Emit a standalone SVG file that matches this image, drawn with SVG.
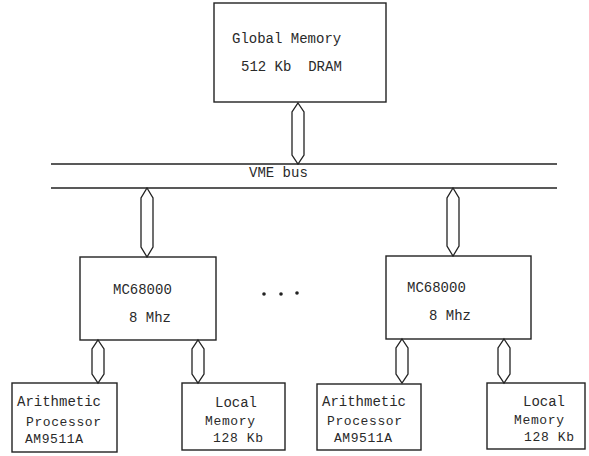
<svg xmlns="http://www.w3.org/2000/svg" width="589" height="456" viewBox="0 0 589 456">
<style>
.box{fill:none;stroke:#222;stroke-width:1.4}
.bus{fill:none;stroke:#222;stroke-width:1.4}
.arr{fill:#fff;stroke:#222;stroke-width:1.3;stroke-linejoin:miter}
text{font-family:"Liberation Mono","Courier New",monospace;font-size:14px;fill:#2a2a2a}
.s{font-size:13px}
</style>
<rect width="589" height="456" fill="#fff"/>
<g id="connectors">
<line class="bus" x1="51" y1="164" x2="557" y2="164"/>
<line class="bus" x1="51" y1="188" x2="557" y2="188"/>
<path class="arr" d="M298,103 L304,112 L304,155 L298,164 L292,155 L292,112 Z"/>
<path class="arr" d="M147,188 L153,198 L153,247 L147,257 L141,247 L141,198 Z"/>
<path class="arr" d="M453,188 L459,198 L459,246 L453,256 L447,246 L447,198 Z"/>
<path class="arr" d="M98,340 L104,349 L104,374 L98,383 L92,374 L92,349 Z"/>
<path class="arr" d="M198,340 L204,349 L204,374 L198,383 L192,374 L192,349 Z"/>
<path class="arr" d="M402,339 L408,348 L408,374 L402,383 L396,374 L396,348 Z"/>
<path class="arr" d="M504,339 L510,348 L510,374 L504,383 L498,374 L498,348 Z"/>
</g>
<g id="vme-bus-label"><text x="249" y="177">VME bus</text></g>
<g id="global-memory">
<rect class="box" x="214" y="3" width="172" height="99"/>
<text x="232" y="43">Global Memory</text>
<text x="241" y="71" xml:space="preserve">512 Kb  DRAM</text>
</g>
<g id="cpu-left">
<rect class="box" x="80" y="257" width="136" height="83"/>
<text x="113" y="294">MC68000</text>
<text x="129" y="322">8 Mhz</text>
</g>
<g id="cpu-right">
<rect class="box" x="386" y="256" width="145" height="83"/>
<text x="407" y="292">MC68000</text>
<text x="429" y="320">8 Mhz</text>
</g>
<g id="ellipsis" fill="#222">
<circle cx="264" cy="294" r="1.8"/>
<circle cx="281" cy="294" r="1.8"/>
<circle cx="297" cy="293" r="1.8"/>
</g>
<g id="arith-left">
<rect class="box" x="12" y="383" width="105" height="69"/>
<text x="17" y="406">Arithmetic</text>
<text class="s" x="26" y="426" textLength="75" lengthAdjust="spacing">Processor</text>
<text class="s" x="25" y="443" textLength="58" lengthAdjust="spacing">AM9511A</text>
</g>
<g id="local-left">
<rect class="box" x="182" y="383" width="103" height="67"/>
<text x="215" y="407">Local</text>
<text class="s" x="205" y="425" textLength="50" lengthAdjust="spacing">Memory</text>
<text class="s" x="213" y="442" textLength="50" lengthAdjust="spacing">128 Kb</text>
</g>
<g id="arith-right">
<rect class="box" x="317" y="384" width="104" height="66"/>
<text x="322" y="406">Arithmetic</text>
<text class="s" x="327" y="425" textLength="75" lengthAdjust="spacing">Processor</text>
<text class="s" x="334" y="442" textLength="58" lengthAdjust="spacing">AM9511A</text>
</g>
<g id="local-right">
<rect class="box" x="487" y="383" width="98" height="66"/>
<text x="523" y="406">Local</text>
<text class="s" x="514" y="424" textLength="50" lengthAdjust="spacing">Memory</text>
<text class="s" x="524" y="441" textLength="50" lengthAdjust="spacing">128 Kb</text>
</g>
</svg>
